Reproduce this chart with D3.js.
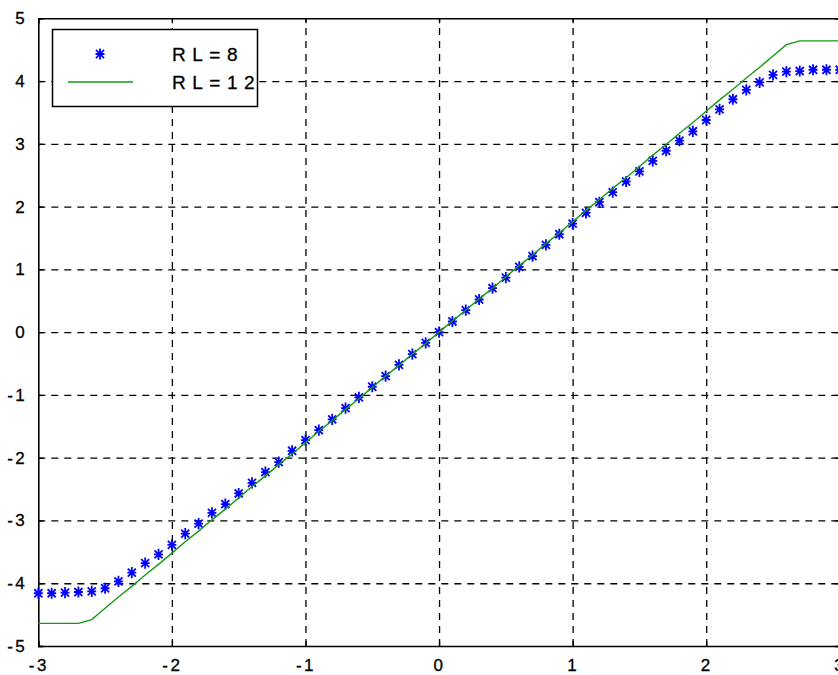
<!DOCTYPE html>
<html>
<head>
<meta charset="utf-8">
<script src="https://cdn.jsdelivr.net/npm/d3@7"></script>
<style>
  html, body { margin: 0; padding: 0; background: #fff; }
  svg { display: block; }
  text { font-family: "Liberation Sans", Arial, sans-serif; fill: #000; }
</style>
</head>
<body>
<svg id="chart" width="838" height="675"></svg>
<script>
const xValues = [-3.0,-2.9,-2.8,-2.7,-2.6,-2.5,-2.4,-2.3,-2.2,-2.1,
  -2.0,-1.9,-1.8,-1.7,-1.6,-1.5,-1.4,-1.3,-1.2,-1.1,
  -1.0,-0.9,-0.8,-0.7,-0.6,-0.5,-0.4,-0.3,-0.2,-0.1,
  0.0,
  0.1,0.2,0.3,0.4,0.5,0.6,0.7,0.8,0.9,1.0,
  1.1,1.2,1.3,1.4,1.5,1.6,1.7,1.8,1.9,2.0,
  2.1,2.2,2.3,2.4,2.5,2.6,2.7,2.8,2.9,3.0];

const rl8 = [-4.16,-4.16,-4.15,-4.14,-4.13,-4.08,-3.97,-3.83,-3.68,-3.54,
  -3.39,-3.21,-3.05,-2.88,-2.74,-2.57,-2.40,-2.23,-2.07,-1.89,
  -1.72,-1.56,-1.39,-1.21,-1.04,-0.87,-0.70,-0.52,-0.35,-0.17,
  0.00,
  0.17,0.35,0.52,0.70,0.87,1.04,1.21,1.39,1.56,1.73,
  1.90,2.07,2.23,2.40,2.56,2.73,2.89,3.05,3.20,3.38,
  3.55,3.71,3.86,3.98,4.10,4.15,4.16,4.18,4.18,4.18];

const rl12 = [-4.64,-4.64,-4.64,-4.64,-4.58,-4.40,-4.22,-4.05,-3.87,-3.70,
  -3.52,-3.34,-3.17,-2.99,-2.82,-2.64,-2.46,-2.29,-2.11,-1.94,
  -1.76,-1.58,-1.41,-1.23,-1.06,-0.88,-0.70,-0.53,-0.35,-0.18,
  0.00,
  0.18,0.35,0.53,0.70,0.88,1.06,1.23,1.41,1.58,1.76,
  1.94,2.11,2.29,2.46,2.64,2.82,2.99,3.17,3.34,3.52,
  3.70,3.87,4.05,4.22,4.40,4.58,4.64,4.64,4.64,4.64];

const xTicks = [-3,-2,-1,0,1,2,3];
const yTicks = [-5,-4,-3,-2,-1,0,1,2,3,4,5];
const seriesNames = ["RL=8", "RL=12"];

const svg = d3.select("#chart");
const pLeft = 38.3, pRight = 839.8, pTop = 18.3, pBottom = 646;
const x = d3.scaleLinear().domain([-3, 3]).range([pLeft, pRight]);
const y = d3.scaleLinear().domain([-5, 5]).range([pBottom, pTop]);
const W = pRight - pLeft, H = pBottom - pTop;

// grid
const gx = svg.append("g").attr("transform", `translate(0,${pBottom})`)
  .call(d3.axisBottom(x).tickValues(xTicks.filter(d => d > -3 && d < 3)).tickSize(-H).tickFormat(""));
const gy = svg.append("g").attr("transform", `translate(${pLeft},0)`)
  .call(d3.axisLeft(y).tickValues(yTicks.filter(d => d > -5 && d < 5)).tickSize(-W).tickFormat(""));
[gx, gy].forEach(g => {
  g.select(".domain").remove();
  g.selectAll(".tick line").attr("stroke", "#000").attr("stroke-width", 1.3).attr("stroke-dasharray", "7,6");
});

// axes with inward ticks
const fmt = d => String(d);
const axB = svg.append("g").attr("transform", `translate(0,${pBottom})`)
  .call(d3.axisBottom(x).tickValues(xTicks).tickSize(-5).tickPadding(13).tickFormat(fmt));
const axT = svg.append("g").attr("transform", `translate(0,${pTop})`)
  .call(d3.axisTop(x).tickValues(xTicks).tickSize(-5).tickFormat(""));
const axL = svg.append("g").attr("transform", `translate(${pLeft},0)`)
  .call(d3.axisLeft(y).tickValues(yTicks).tickSize(-5).tickPadding(11).tickFormat(fmt));
const axR = svg.append("g").attr("transform", `translate(${pRight},0)`)
  .call(d3.axisRight(y).tickValues(yTicks).tickSize(-5).tickFormat(""));
[axB, axT, axL, axR].forEach(g => {
  g.select(".domain").attr("stroke", "#000").attr("stroke-width", 1.6);
  g.selectAll(".tick line").attr("stroke", "#000").attr("stroke-width", 1.3);
  g.selectAll("text").attr("font-size", 17).attr("letter-spacing", 2.5)
    .attr("font-family", "Liberation Sans, Arial, sans-serif").attr("fill", "#000")
    .attr("stroke", "#000").attr("stroke-width", 0.3);
});

// marker type: MATLAB-like '*'
const starType = {
  draw(ctx, size) {
    const r = Math.sqrt(size) / 2;
    const d = r * 0.72;
    ctx.moveTo(0, -r); ctx.lineTo(0, r);
    ctx.moveTo(-r * 0.8, 0); ctx.lineTo(r * 0.8, 0);
    ctx.moveTo(-d, -d); ctx.lineTo(d, d);
    ctx.moveTo(-d, d); ctx.lineTo(d, -d);
  }
};
const star = d3.symbol().type(starType).size(125);

// RL=8 markers
svg.append("g").selectAll("path").data(xValues.map((xv, i) => [xv, rl8[i]])).join("path")
  .attr("transform", d => `translate(${x(d[0])},${y(d[1])})`)
  .attr("d", star).attr("fill", "none").attr("stroke", "#0000ff").attr("stroke-width", 1.8);

// RL=12 line
const line = d3.line().x(d => x(d[0])).y(d => y(d[1]));
svg.append("path").datum(xValues.map((xv, i) => [xv, rl12[i]]))
  .attr("d", line).attr("fill", "none").attr("stroke", "#169a16").attr("stroke-width", 1.4);

// legend
const lg = svg.append("g");
lg.append("rect").attr("x", 52.5).attr("y", 29.5).attr("width", 205).attr("height", 77)
  .attr("fill", "#fff").attr("stroke", "#000").attr("stroke-width", 1.5);
lg.append("path").attr("transform", "translate(100,54)").attr("d", star)
  .attr("fill", "none").attr("stroke", "#0000ff").attr("stroke-width", 1.8);
lg.append("line").attr("x1", 68).attr("x2", 133).attr("y1", 82).attr("y2", 82)
  .attr("stroke", "#169a16").attr("stroke-width", 1.4);
lg.selectAll("text").data(seriesNames).join("text")
  .attr("x", 172).attr("y", (d, i) => 54 + i * 28).attr("dy", "0.36em")
  .attr("font-size", 19).attr("letter-spacing", 6.5)
  .attr("stroke", "#000").attr("stroke-width", 0.3).text(d => d);
</script>
</body>
</html>
